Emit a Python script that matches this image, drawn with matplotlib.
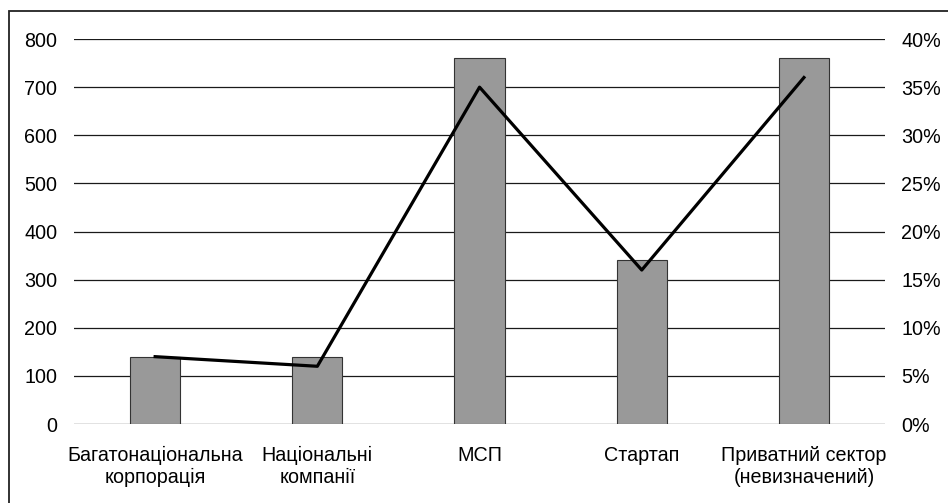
import matplotlib
matplotlib.use('Agg')
import matplotlib.pyplot as plt
from matplotlib.patches import Rectangle
from matplotlib.ticker import FuncFormatter

plt.rcParams['font.family'] = ['Liberation Sans', 'DejaVu Sans']

# data
categories = ['Багатонаціональна\nкорпорація', 'Національні\nкомпанії', 'МСП',
              'Стартап', 'Приватний сектор\n(невизначений)']
counts = [140, 140, 760, 340, 760]
shares = [0.07, 0.06, 0.35, 0.16, 0.36]
left_ticks = [0, 100, 200, 300, 400, 500, 600, 700, 800]
right_ticks = [0, 0.05, 0.10, 0.15, 0.20, 0.25, 0.30, 0.35, 0.40]

fs = 14.2

fig = plt.figure(figsize=(9.48, 5.03), dpi=100)
ax = fig.add_axes([0.0781, 0.157, 0.8555, 0.7654])

x = list(range(len(categories)))
ax.set_xlim(-0.5, len(categories) - 0.5)
ax.set_ylim(0, 800)
ax.set_yticks(left_ticks)
for t in left_ticks:
    ax.axhline(t, color='#1a1a1a', lw=0.9, zorder=0)
ax.bar(x, counts, width=0.31, color='#999999', edgecolor='#333333', lw=0.8, zorder=2)

ax.set_xticks(x)
ax.set_xticklabels(categories, fontsize=fs, linespacing=1.2)
ax.tick_params(axis='x', length=0, pad=16)
ax.tick_params(axis='y', length=0, pad=12, labelsize=fs)
for s in ax.spines.values():
    s.set_visible(False)

ax2 = ax.twinx()
ax2.set_ylim(0, 0.4)
ax2.set_yticks(right_ticks)
ax2.yaxis.set_major_formatter(FuncFormatter(lambda v, p: f'{round(v * 100)}%'))
ax2.tick_params(axis='y', length=0, pad=11.5, labelsize=fs)
for s in ax2.spines.values():
    s.set_visible(False)
ax2.plot(x, shares, color='black', lw=2.3, zorder=3)

# frame: only the left and top edges fall inside the image
fig.patches.append(Rectangle((8.5 / 948, -0.05), 1.0, 1.05 - 10.5 / 503,
                             transform=fig.transFigure, fill=False,
                             edgecolor='#222222', lw=1.3))

fig.savefig('out.png', dpi=100)
